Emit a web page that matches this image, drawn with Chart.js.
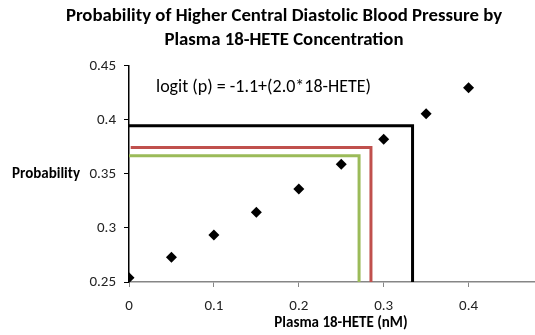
<!DOCTYPE html>
<html>
<head>
<meta charset="utf-8">
<script src="https://cdn.jsdelivr.net/npm/chart.js@4/dist/chart.umd.min.js"></script>
<style>
html,body{margin:0;padding:0;background:#fff;overflow:hidden;}
#wrap{width:535px;height:335px;position:relative;overflow:hidden;}
#c{display:block;}
</style>
</head>
<body>
<div id="wrap"><canvas id="c" width="542" height="335"></canvas></div>
<script>
// ---- data ----
const concentration = [0, 0.05, 0.1, 0.15, 0.2, 0.25, 0.3, 0.35, 0.4];
const probability   = [0.254, 0.273, 0.2935, 0.3145, 0.336, 0.359, 0.382, 0.4056, 0.4296];
const xTickValues = [0, 0.1, 0.2, 0.3, 0.4];
const yTickValues = [0.25, 0.3, 0.35, 0.4, 0.45];
const blackLineX = [0, 0.334, 0.334];
const blackLineY = [0.3944, 0.3944, 0.25];
const redLineX   = [0.002, 0.285, 0.285];
const redLineY   = [0.3744, 0.3744, 0.25];
const greenLineX = [0, 0.271, 0.271];
const greenLineY = [0.3667, 0.3667, 0.25];
const titleLines = ['Probability of Higher Central Diastolic Blood Pressure by', 'Plasma 18-HETE Concentration'];
const xTitle = 'Plasma 18-HETE (nM)';
const yTitle = 'Probability';
const equationText = 'logit (p) = -1.1+(2.0*18-HETE)';

const FONT = 'Carlito, Lato, "Liberation Sans", sans-serif';
const pts = (xs, ys) => xs.map((x, i) => ({x: x, y: ys[i]}));

const textPlugin = {
  id: 'texts',
  afterDraw(chart) {
    const ctx = chart.ctx;
    const ys = chart.scales.y;
    ctx.save();
    ctx.fillStyle = '#000';
    ctx.textBaseline = 'middle';
    ctx.font = '18px ' + FONT;
    ctx.textAlign = 'left';
    ctx.fillText(equationText, 156, 87);
    ctx.font = 'bold 15px ' + FONT;
    ctx.fillText(yTitle, 12, ys.getPixelForValue(0.35));
    ctx.textAlign = 'center';
    ctx.fillText(xTitle, 341, 323);
    ctx.restore();
  }
};

new Chart(document.getElementById('c'), {
  type: 'scatter',
  data: {
    datasets: [
      {data: pts(concentration, probability), pointStyle: 'rectRot', pointRadius: 5.5, pointHoverRadius: 5.5,
       backgroundColor: '#000', borderColor: '#000', borderWidth: 0, showLine: false, order: 0},
      {data: pts(blackLineX, blackLineY), showLine: true, borderColor: '#000', borderWidth: 3, pointRadius: 0, order: 1},
      {data: pts(redLineX, redLineY), showLine: true, borderColor: '#C0504D', borderWidth: 3, pointRadius: 0, order: 2},
      {data: pts(greenLineX, greenLineY), showLine: true, borderColor: '#9BBB59', borderWidth: 3, pointRadius: 0, order: 3}
    ]
  },
  options: {
    responsive: false,
    animation: false,
    layout: {padding: {left: 26, right: 0, top: 4, bottom: 10}},
    plugins: {
      legend: {display: false},
      tooltip: {enabled: false},
      title: {display: true, text: titleLines, color: '#000',
              font: {family: FONT, size: 18.8, weight: 'bold', lineHeight: 1.27}, padding: {top: 0, bottom: 14}}
    },
    scales: {
      x: {
        type: 'linear', min: 0, max: 0.48,
        afterBuildTicks: s => { s.ticks = xTickValues.map(v => ({value: v})); },
        ticks: {color: '#222', font: {family: FONT, size: 15}, padding: 10, maxRotation: 0,
                callback: v => String(Math.round(v * 100) / 100)},
        grid: {drawOnChartArea: false, drawTicks: true, tickLength: 5, color: '#868686'},
        border: {color: '#868686', width: 1.5}
      },
      y: {
        type: 'linear', min: 0.25, max: 0.45,
        afterBuildTicks: s => { s.ticks = yTickValues.map(v => ({value: v})); },
        afterFit: s => { s.width = 103; },
        ticks: {color: '#222', font: {family: FONT, size: 15}, padding: 8,
                callback: v => String(Math.round(v * 100) / 100)},
        grid: {drawOnChartArea: false, drawTicks: true, tickLength: 5, color: '#000'},
        border: {color: '#000', width: 1.5}
      }
    }
  },
  plugins: [textPlugin]
});
</script>
</body>
</html>
